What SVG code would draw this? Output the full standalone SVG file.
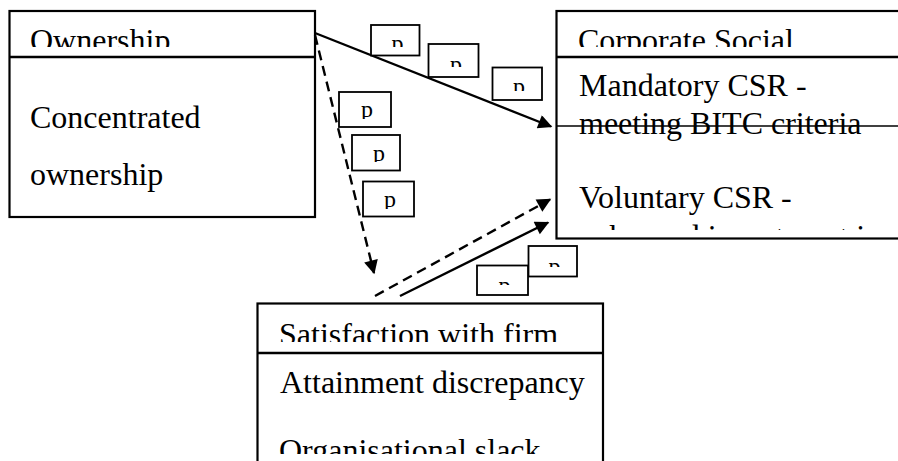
<svg xmlns="http://www.w3.org/2000/svg" width="898" height="461" viewBox="0 0 898 461">
<style>
.box{fill:#fff;stroke:#000;stroke-width:2.2}
.lbl{fill:#fff;stroke:#000;stroke-width:1.8}
.t{font-family:"Liberation Serif","Times New Roman",serif;font-size:32px;fill:#000}
.p{font-family:"Liberation Serif","Times New Roman",serif;font-size:24px;fill:#000}
.ln{stroke:#000;stroke-width:2.4;fill:none}
.dash{stroke-dasharray:10 6}
</style>
<defs>
<marker id="ah" viewBox="0 0 10 10" refX="9" refY="5" markerWidth="17" markerHeight="14" markerUnits="userSpaceOnUse" orient="auto">
<path d="M0,0 L10,5 L0,10 z" fill="#000"/>
</marker>
<clipPath id="cOwnT"><rect x="9" y="11" width="306" height="36"/></clipPath>
<clipPath id="cCsrT"><rect x="556" y="11" width="342" height="36"/></clipPath>
<clipPath id="cCsrB"><rect x="556" y="57" width="342" height="173"/></clipPath>
<clipPath id="cSatT"><rect x="257" y="303" width="346" height="39"/></clipPath>
<clipPath id="cSatB"><rect x="257" y="353" width="346" height="101"/></clipPath>
<clipPath id="c1"><rect x="371" y="25" width="48" height="22"/></clipPath>
<clipPath id="c2"><rect x="428" y="44" width="50" height="23"/></clipPath>
<clipPath id="c3"><rect x="492" y="67" width="50" height="24"/></clipPath>
<clipPath id="c4"><rect x="339" y="92" width="52" height="27"/></clipPath>
<clipPath id="c5"><rect x="352" y="135" width="48" height="27"/></clipPath>
<clipPath id="c6"><rect x="363" y="181" width="51" height="28"/></clipPath>
<clipPath id="c7"><rect x="528" y="246" width="49" height="21"/></clipPath>
<clipPath id="c8"><rect x="477" y="265" width="51" height="20"/></clipPath>
</defs>
<rect x="0" y="0" width="898" height="461" fill="#fff"/>

<g id="ownership">
<rect class="box" x="9.5" y="11" width="305.5" height="206"/>
<line class="ln" x1="9.5" y1="57" x2="315" y2="57"/>
<text class="t" x="30" y="51" clip-path="url(#cOwnT)">Ownership</text>
<text class="t" x="30" y="128">Concentrated</text>
<text class="t" x="30" y="185">ownership</text>
</g>

<g id="csr">
<rect class="box" x="556.5" y="11" width="345" height="227.5"/>
<line class="ln" x1="556.5" y1="57" x2="898" y2="57"/>
<text class="t" x="578" y="51" clip-path="url(#cCsrT)">Corporate Social</text>
<text class="t" x="579" y="96">Mandatory CSR -</text>
<text class="t" x="579" y="134">meeting BITC criteria</text>
<line x1="556.5" y1="126" x2="898" y2="126" stroke="#000" stroke-width="1.3"/>
<text class="t" x="579" y="208">Voluntary CSR -</text>
<text class="t" x="579" y="247" clip-path="url(#cCsrB)">enhanced investment in community</text>
</g>

<g id="satisfaction">
<rect class="box" x="257.5" y="303.5" width="345.5" height="170"/>
<line class="ln" x1="257.5" y1="353" x2="603" y2="353"/>
<text class="t" x="279" y="345" clip-path="url(#cSatT)">Satisfaction with firm</text>
<text class="t" x="280" y="393">Attainment discrepancy</text>
<text class="t" x="279" y="461" clip-path="url(#cSatB)">Organisational slack</text>
</g>

<g id="connectors">
<line class="ln" x1="315" y1="33" x2="551" y2="126.5" marker-end="url(#ah)"/>
<line class="ln dash" x1="315" y1="35" x2="374" y2="273" marker-end="url(#ah)"/>
<line class="ln dash" x1="375" y1="296" x2="550" y2="199.5" marker-end="url(#ah)"/>
<line class="ln" x1="400" y1="296" x2="548" y2="222.5" marker-end="url(#ah)"/>
</g>

<g id="label1"><rect class="lbl" x="371" y="25" width="48.5" height="30.5"/><text class="p" x="391.5" y="51" clip-path="url(#c1)">p</text></g>
<g id="label2"><rect class="lbl" x="428.5" y="44" width="50" height="33"/><text class="p" x="450" y="71.5" clip-path="url(#c2)">p</text></g>
<g id="label3"><rect class="lbl" x="492.5" y="67.5" width="49.5" height="32.5"/><text class="p" x="513" y="94" clip-path="url(#c3)">p</text></g>
<g id="label4"><rect class="lbl" x="339" y="92" width="52" height="35"/><text class="p" x="361" y="117" clip-path="url(#c4)">p</text></g>
<g id="label5"><rect class="lbl" x="352" y="135" width="48" height="35.5" stroke-width="2.2"/><text class="p" x="373" y="160.5" clip-path="url(#c5)">p</text></g>
<g id="label6"><rect class="lbl" x="363" y="181.5" width="51" height="35"/><text class="p" x="384" y="207" clip-path="url(#c6)">p</text></g>
<g id="label7"><rect class="lbl" x="528.5" y="246" width="48.5" height="30.5"/><text class="p" x="548.5" y="273.5" clip-path="url(#c7)">p</text></g>
<g id="label8"><rect class="lbl" x="477" y="265.5" width="51" height="29.5"/><text class="p" x="498.5" y="292.5" clip-path="url(#c8)">p</text></g>
</svg>
